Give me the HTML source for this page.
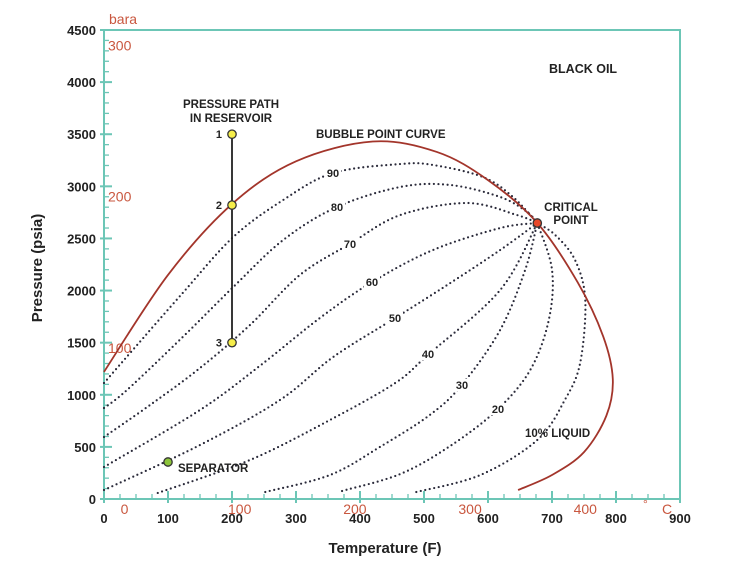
<!DOCTYPE html>
<html><head><meta charset="utf-8">
<style>
html,body{margin:0;padding:0;background:#fff;}
svg{display:block;font-family:"Liberation Sans",Arial,sans-serif;}
</style></head>
<body>
<svg id="chart" width="732" height="570" viewBox="0 0 732 570"></svg>
<script>
// ---- data ----
const xTicks = [0,100,200,300,400,500,600,700,800,900];
const yTicks = [0,500,1000,1500,2000,2500,3000,3500,4000,4500];
const celsiusTicks = [0,100,200,300,400];
const barTicks = [100,200,300];
const bubbleT = [0,100,200,300,420,520,600,677,740,780,795,785,750,700,647];
const bubbleP = [1220,2150,2830,3240,3430,3330,3060,2648,2080,1560,1150,800,450,230,86];
const q90T = [0,45,123,202,280,358,463,514,592,639,677];
const q90P = [1113,1430,1977,2514,2869,3128,3214,3205,3090,2898,2648];
const q80T = [0,36,123,202,280,364,463,541,619,661,677];
const q80P = [873,1046,1554,2034,2485,2802,2994,3013,2898,2754,2648];
const q70T = [0,72,150,228,306,384,463,567,645,677];
const q70P = [595,902,1257,1669,2149,2447,2725,2840,2725,2648];
const q60T = [0,150,244,338,419,514,619,677];
const q60P = [307,854,1280,1740,2082,2389,2600,2648];
const q50T = [0,150,275,358,455,541,619,677];
const q50P = [86,518,950,1362,1737,2072,2389,2648];
const q40T = [84,228,353,455,506,619,677];
const q40P = [58,374,758,1113,1382,2005,2648];
const q30T = [252,353,431,509,559,619,658,677];
const q30P = [67,230,499,806,1094,1622,2197,2648];
const q20T = [372,463,541,614,666,695,700,677];
const q20P = [77,240,509,854,1238,1718,2200,2648];
const q10T = [488,588,677,720,744,752,736,705,677];
const q10P = [67,230,566,950,1305,1909,2293,2533,2648];
const pathT = [200,200,200];
const pathP = [3500,2820,1500];
const pathLabels = ["1","2","3"];
const separatorT = 100, separatorP = 355;
const criticalT = 677, criticalP = 2648;

// ---- axes ----
const X0=104, X1=680, Y0=499, Y1=30;
const xs = t => X0 + t*(X1-X0)/900;
const ys = p => Y0 - p*(Y0-Y1)/4500;
const NS="http://www.w3.org/2000/svg";
const svg=document.getElementById('chart');
function mk(tag, attrs, parent){const e=document.createElementNS(NS,tag);for(const k in attrs)e.setAttribute(k,attrs[k]);(parent||svg).appendChild(e);return e;}
function smooth(T,P){
  const pts=T.map((t,i)=>[xs(t),ys(P[i])]);
  let d=`M${pts[0][0]},${pts[0][1]}`;
  for(let i=0;i<pts.length-1;i++){
    const p0=pts[i-1]||pts[i],p1=pts[i],p2=pts[i+1],p3=pts[i+2]||p2;
    const c1=[p1[0]+(p2[0]-p0[0])/6,p1[1]+(p2[1]-p0[1])/6];
    const c2=[p2[0]-(p3[0]-p1[0])/6,p2[1]-(p3[1]-p1[1])/6];
    d+=` C${c1[0]},${c1[1]} ${c2[0]},${c2[1]} ${p2[0]},${p2[1]}`;
  }
  return d;
}
const TEAL="#6cc6b6", RED="#c9573f";

let e;
e=mk('rect',{x:X0,y:Y1,width:X1-X0,height:Y0-Y1,fill:'none',stroke:TEAL,'stroke-width':2});



for(let p=0;p<=4500;p+=100){
  const major=p%500===0;
  e=mk('line',{x1:X0-(major?4:0),x2:X0+(major?8:5),y1:ys(p),y2:ys(p),stroke:TEAL,'stroke-width':major?2:1.3});
  
  
}
yTicks.forEach(p=>{
  e=mk('text',{x:X0-8,y:ys(p)+5,'text-anchor':'end','font-size':13,'font-weight':'bold',fill:'#222'});
  e.textContent=p;
  
  
});
for(let t=0;t<=900;t+=25){
  const major=t%100===0;
  e=mk('line',{x1:xs(t),x2:xs(t),y1:Y0-(major?8:5),y2:Y0+(major?4:0),stroke:TEAL,'stroke-width':major?2:1.3});
  
  
}
xTicks.forEach(t=>{
  e=mk('text',{x:xs(t),y:Y0+24,'text-anchor':'middle','font-size':13,'font-weight':'bold',fill:'#222'});
  e.textContent=t;
  
  
});
celsiusTicks.forEach(c=>{
  e=mk('text',{x:xs(c*1.8+32),y:Y0+15,'text-anchor':'middle','font-size':14,fill:RED});
  e.textContent=c;
  
  
});
e=mk('text',{x:643,y:Y0+9,'font-size':12,fill:RED});e.textContent='°';


e=mk('text',{x:662,y:Y0+15,'font-size':14,fill:RED});e.textContent='C';


barTicks.forEach(b=>{
  e=mk('text',{x:X0+4,y:ys(b*14.504)+5,'font-size':14,fill:RED});
  e.textContent=b;
  
  
});
e=mk('text',{x:109,y:24,'font-size':14,fill:RED});e.textContent='bara';



e=mk('text',{x:385,y:553,'text-anchor':'middle','font-size':15,'font-weight':'bold',fill:'#222'});
e.textContent='Temperature (F)';


e=mk('text',{x:0,y:0,transform:'translate(42,268) rotate(-90)','text-anchor':'middle','font-size':15,'font-weight':'bold',fill:'#222'});
e.textContent='Pressure (psia)';



const qualities=[[q90T,q90P,'90'],[q80T,q80P,'80'],[q70T,q70P,'70'],[q60T,q60P,'60'],[q50T,q50P,'50'],[q40T,q40P,'40'],[q30T,q30P,'30'],[q20T,q20P,'20'],[q10T,q10P,'10']];
qualities.forEach(q=>{
  e=mk('path',{d:smooth(q[0],q[1]),fill:'none',stroke:'#2a2a3a','stroke-width':2.2,'stroke-linecap':'round','stroke-dasharray':'0 4.6'});
  
  
});
e=mk('path',{d:smooth(bubbleT,bubbleP),fill:'none',stroke:'#a3352b','stroke-width':1.8});



const lbl=[[333,177,'90'],[337,211,'80'],[350,248,'70'],[372,286,'60'],[395,322,'50'],[428,358,'40'],[462,389,'30'],[498,413,'20']];
lbl.forEach(l=>{
  e=mk('rect',{x:l[0]-8,y:l[1]-10,width:16,height:12,fill:'#fff'});
  
  
  e=mk('text',{x:l[0],y:l[1],'text-anchor':'middle','font-size':11,'font-weight':'bold',fill:'#222'});
  e.textContent=l[2];
  
  
});
function txt(x,y,s,name,size,anchor){
  const t=mk('text',{x:x,y:y,'font-size':size||12,'font-weight':'bold',fill:'#222','text-anchor':anchor||'start'});
  t.textContent=s;
  
  
}
txt(525,437,'10% LIQUID','ten-percent-label',11.5);
txt(316,138,'BUBBLE POINT CURVE','bubble-curve-label',11.5);
txt(571,211,'CRITICAL','critical-label',11.5,'middle');
txt(571,224,'POINT','critical-label-2',11.5,'middle');
txt(549,73,'BLACK OIL','title-label',12.5);
txt(231,108,'PRESSURE PATH','pressure-path-label',11.5,'middle');
txt(231,122,'IN RESERVOIR','pressure-path-label-2',11.5,'middle');
txt(178,472,'SEPARATOR','separator-label',11.5);

e=mk('line',{x1:xs(pathT[0]),x2:xs(pathT[2]),y1:ys(pathP[0]),y2:ys(pathP[2]),stroke:'#222','stroke-width':1.8});


pathT.forEach((t,i)=>{
  e=mk('circle',{cx:xs(t),cy:ys(pathP[i]),r:4.2,fill:'#f6ee4a',stroke:'#333','stroke-width':1.3});
  
  
  txt(xs(t)-10,ys(pathP[i])+4,pathLabels[i],'path-point-label',11,'end');
});
e=mk('circle',{cx:xs(separatorT),cy:ys(separatorP),r:4.2,fill:'#8cc43a',stroke:'#333','stroke-width':1.3});


e=mk('circle',{cx:xs(criticalT),cy:ys(criticalP),r:4.2,fill:'#e8482a',stroke:'#333','stroke-width':1.3});


</script>
</body></html>
